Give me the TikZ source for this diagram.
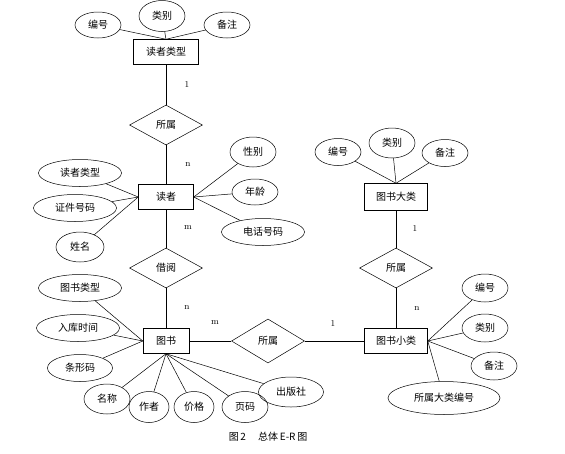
\documentclass[tikz,border=0pt]{standalone}
\usepackage{fontspec}
\newfontfamily\cjk{Noto Sans CJK SC}
\usetikzlibrary{shapes.geometric}

\begin{document}
\begin{tikzpicture}[
      x=1pt, y=-1pt,
      line width=0.5pt,
      shiti/.style={draw, inner sep=0pt, font=\cjk\fontsize{10}{12}\selectfont,
                    minimum width=63pt, minimum height=25pt},
      shuxing/.style={draw, ellipse, inner sep=0pt, font=\cjk\fontsize{10}{12}\selectfont,
                      minimum width=46pt, minimum height=28pt},
      lianxi/.style={draw, diamond, inner sep=0pt, font=\cjk\fontsize{10}{12}\selectfont,
                     minimum width=73pt, minimum height=40pt},
      dushu/.style={font=\fontsize{9}{10}\selectfont},
      biaoti/.style={font=\cjk\fontsize{10}{12}\selectfont}
    ]
    \useasboundingbox (0,0) rectangle (565,453);

    % reader type
    \node[shiti, minimum width=65pt] (dzlx) at (166,52) {读者类型};
    \node[shuxing, minimum height=26pt] (dzlx_bh) at (98,25)  {编号};
    \node[shuxing, minimum height=31pt] (dzlx_lb) at (162,16) {类别};
    \node[shuxing, minimum height=26pt] (dzlx_bz) at (227,25) {备注};
    \draw (dzlx_bh) -- (dzlx.north);
    \draw (dzlx_lb) -- (dzlx.north);
    \draw (dzlx_bz) -- (dzlx.north);

    \node[lianxi] (ss1) at (166,125) {所属};

    % reader
    \node[shiti, minimum width=55pt] (dz) at (166,197) {读者};
    \node[shuxing, minimum width=83pt, minimum height=27pt] (dz_lx) at (80,173) {读者类型};
    \node[shuxing, minimum width=83pt, minimum height=27pt] (dz_zj) at (75,208) {证件号码};
    \node[shuxing, minimum width=48pt, minimum height=30pt] (dz_xm) at (80,247) {姓名};
    \node[shuxing, minimum height=30pt] (dz_xb) at (253,152) {性别};
    \node[shuxing, minimum height=26pt] (dz_nl) at (255,192) {年龄};
    \node[shuxing, minimum width=83pt, minimum height=27pt] (dz_dh) at (263,232) {电话号码};
    \draw (dz_lx) -- (dz.west);
    \draw (dz_zj) -- (dz.west);
    \draw (dz_xm) -- (dz.west);
    \draw (dz_xb) -- (dz.east);
    \draw (dz_nl) -- (dz.east);
    \draw (dz_dh) -- (dz.east);

    \node[lianxi] (jy) at (166,268) {借阅};

    % book
    \node[shiti, minimum width=46pt] (ts) at (166,341) {图书};
    \node[shuxing, minimum width=83pt, minimum height=27pt] (ts_lx) at (80,288) {图书类型};
    \node[shuxing, minimum width=83pt, minimum height=27pt] (ts_rk) at (78,328) {入库时间};
    \node[shuxing, minimum width=65pt, minimum height=27pt] (ts_txm) at (80,368) {条形码};
    \node[shuxing, minimum height=30pt] (ts_mc) at (107,399) {名称};
    \node[shuxing, minimum width=40pt, minimum height=31pt] (ts_zz) at (149,407) {作者};
    \node[shuxing, minimum width=40pt, minimum height=31pt] (ts_jg) at (194,407) {价格};
    \node[shuxing, minimum height=31pt] (ts_ym) at (245,407) {页码};
    \node[shuxing, minimum width=65pt, minimum height=30pt] (ts_cbs) at (291,392) {出版社};
    \draw (ts_lx) -- (ts.west);
    \draw (ts_rk) -- (ts.west);
    \draw (ts_txm) -- (ts.west);
    \draw (ts_mc) -- (ts.south);
    \draw (ts_zz) -- (ts.south);
    \draw (ts_jg) -- (ts.south);
    \draw (ts_ym) -- (ts.south);
    \draw (ts_cbs) -- (ts.south);

    \node[lianxi, minimum height=44pt] (ss2) at (268,341) {所属};

    % book category
    \node[shiti, minimum height=27pt] (tsdl) at (396,197) {图书大类};
    \node[shuxing, minimum height=27pt] (tsdl_bh) at (338,152) {编号};
    \node[shuxing, minimum height=30pt] (tsdl_lb) at (392,143) {类别};
    \node[shuxing, minimum height=27pt] (tsdl_bz) at (445,153) {备注};
    \draw (tsdl_bh) -- (tsdl.north);
    \draw (tsdl_lb) -- (tsdl.north);
    \draw (tsdl_bz) -- (tsdl.north);

    \node[lianxi] (ss3) at (396,268) {所属};

    % book subcategory
    \node[shiti] (tsxl) at (396,341) {图书小类};
    \node[shuxing, minimum height=28pt] (tsxl_bh) at (485,288) {编号};
    \node[shuxing, minimum height=28pt] (tsxl_lb) at (485,328) {类别};
    \node[shuxing, minimum height=28pt] (tsxl_bz) at (494,366) {备注};
    \node[shuxing, minimum width=112pt, minimum height=33pt] (tsxl_dl) at (444,398) {所属大类编号};
    \draw (tsxl_bh) -- (tsxl.east);
    \draw (tsxl_lb) -- (tsxl.east);
    \draw (tsxl_bz) -- (tsxl.east);
    \draw (tsxl_dl) -- (tsxl.east);

    % relationships
    \draw (dzlx) -- (ss1);
    \draw (ss1) -- (dz);
    \draw (dz) -- (jy);
    \draw (jy) -- (ts);
    \draw (ts) -- (ss2);
    \draw (ss2) -- (tsxl);
    \draw (tsdl) -- (ss3);
    \draw (ss3) -- (tsxl);

    \node[dushu] (k1) at (187,85)  {1};
    \node[dushu] (k2) at (188,165) {n};
    \node[dushu] (k3) at (188,228) {m};
    \node[dushu] (k4) at (187,308) {n};
    \node[dushu] (k5) at (215,323) {m};
    \node[dushu] (k6) at (333,323) {1};
    \node[dushu] (k7) at (415,228) {1};
    \node[dushu] (k8) at (417,309) {n};

    \node[biaoti] (cap) at (268,437) {图\,2\quad\ 总体\,E-R\,图};
  \end{tikzpicture}
\end{document}
